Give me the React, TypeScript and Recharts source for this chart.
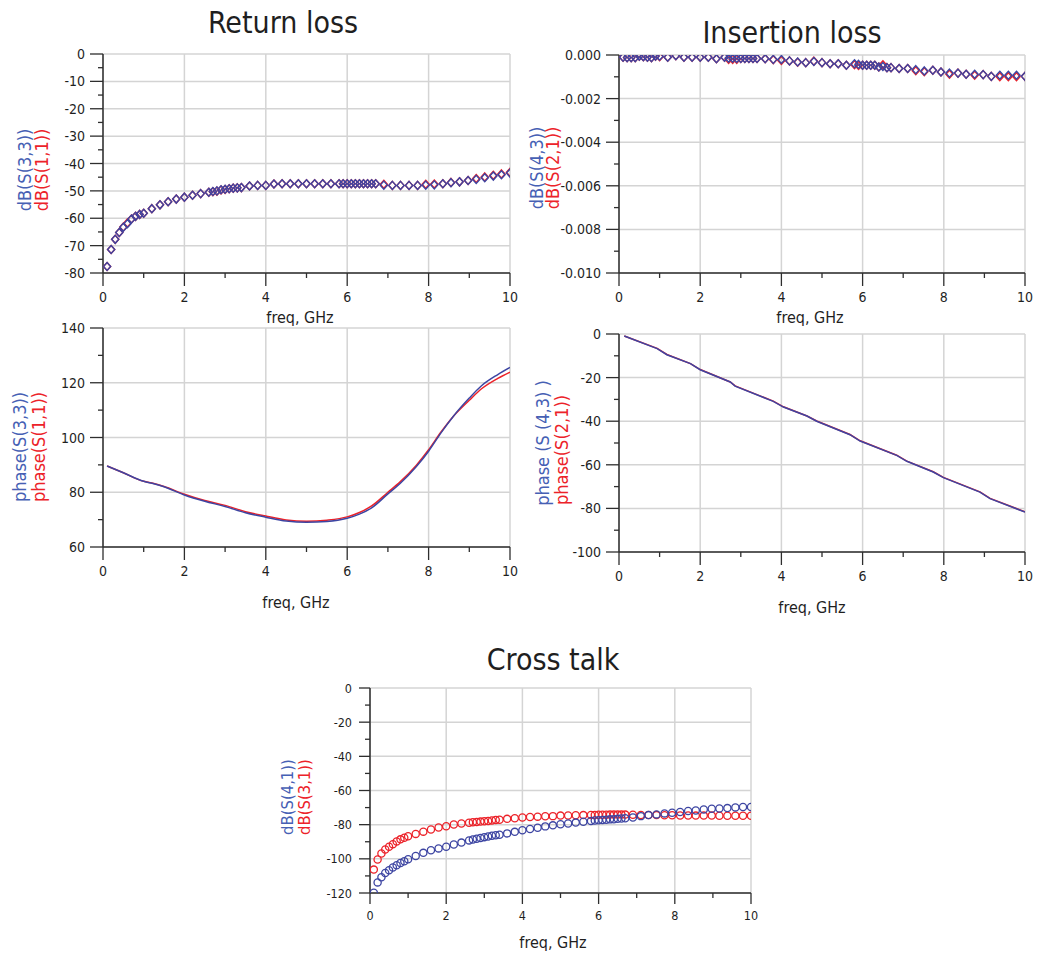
import React from 'react'
import { ScatterChart, Scatter, LineChart, Line, XAxis, YAxis, CartesianGrid } from 'recharts'

const BLUE = '#3d45a2'
const RED = '#ec2229'
const BLUE_TEXT = '#4660b4'
const GRID = '#d4d4d4'
const AXIS = '#2e2e2e'
const INK = '#1f1f1f'
const FONT = "'Liberation Sans Narrow', 'DejaVu Sans Condensed', 'Arial Narrow', sans-serif"

// sweep points, GHz (shared by the three marker plots)
const sweepFreq = [
  0.1, 0.2, 0.3, 0.4, 0.5, 0.6, 0.7, 0.8, 0.9, 1.0,
  1.2, 1.4, 1.6, 1.8, 2.0, 2.2, 2.4,
  2.6, 2.7, 2.8, 2.9, 3.0, 3.1, 3.2, 3.3, 3.4,
  3.6, 3.8, 4.0, 4.2, 4.4, 4.6, 4.8, 5.0, 5.2, 5.4, 5.6, 5.8,
  5.9, 6.0, 6.1, 6.2, 6.3, 6.4, 6.5, 6.6, 6.7,
  6.9, 7.11, 7.31, 7.52, 7.73, 7.93, 8.14, 8.35, 8.55, 8.76, 8.97, 9.17, 9.38, 9.59, 9.79, 10.0,
]

const s33Return = [
  -77.6, -71.4, -67.7, -65.2, -63.3, -62.0, -60.3, -59.3, -58.6, -58.2,
  -56.5, -55.1, -54.0, -53.0, -52.3, -51.6, -51.0,
  -50.5, -50.2, -50.0, -49.6, -49.4, -49.2, -49.0, -48.9, -48.8,
  -48.2, -48.0, -48.0, -47.5, -47.4, -47.4, -47.4, -47.4, -47.4, -47.4, -47.4, -47.4,
  -47.4, -47.4, -47.4, -47.4, -47.4, -47.4, -47.4, -47.4, -47.4,
  -47.9, -48.0, -48.0, -48.0, -48.0, -47.9, -47.8, -47.4, -47.0, -46.7, -46.2, -45.8, -45.2, -44.6, -44.1, -43.5,
]
const s11Return = [
  -77.6, -71.4, -67.7, -65.2, -63.2, -61.7, -60.3, -59.3, -58.6, -58.2,
  -56.5, -55.1, -54.0, -53.0, -52.3, -51.6, -51.0,
  -50.5, -50.3, -50.1, -49.7, -49.5, -49.2, -49.0, -48.9, -48.8,
  -48.2, -48.0, -48.0, -47.5, -47.4, -47.4, -47.4, -47.4, -47.4, -47.4, -47.4, -47.4,
  -47.4, -47.4, -47.4, -47.4, -47.4, -47.4, -47.4, -47.4, -47.4,
  -47.6, -48.0, -48.0, -48.0, -48.0, -47.6, -47.5, -47.4, -46.9, -46.7, -46.2, -45.5, -44.9, -44.3, -43.8, -43.2,
]

const s43Insertion = [
  -0.0001, -0.00012, -0.00012, -0.00012, -0.00005, -0.00008, -0.0001, -0.00012, -0.00005, -0.00006,
  -0.0001, -0.00003, -0.0001, -0.0001, -0.0001, -0.0001, -0.00017,
  -0.0001, -0.00015, -0.00015, -0.00016, -0.00016, -0.00016, -0.00016, -0.00016, -0.00016,
  -0.00017, -0.0002, -0.00021, -0.00027, -0.00032, -0.00035, -0.0003, -0.00035, -0.0004, -0.0004, -0.00047, -0.0004,
  -0.00043, -0.00047, -0.00047, -0.00047, -0.00047, -0.00055, -0.00053, -0.00058, -0.00058,
  -0.00062, -0.00062, -0.00067, -0.00073, -0.0007, -0.00078, -0.00083, -0.00083, -0.00088, -0.00088, -0.0009, -0.00098, -0.00093, -0.00093, -0.00093, -0.00098,
]
const s21Insertion = [
  -0.0001, -0.00012, -0.00012, -0.00012, -0.00005, -0.00008, -0.0001, -0.00012, -0.00005, -0.00008,
  -0.0001, -0.00003, -0.0001, -0.0001, -0.0001, -0.0001, -0.00017,
  -0.0001, -0.0002, -0.0002, -0.0002, -0.00016, -0.00016, -0.00016, -0.00016, -0.00016,
  -0.00017, -0.00022, -0.00025, -0.00027, -0.00033, -0.00035, -0.00028, -0.00035, -0.0004, -0.0004, -0.00047, -0.00045,
  -0.00048, -0.00047, -0.00047, -0.00047, -0.00047, -0.00055, -0.00045, -0.00058, -0.00058,
  -0.00062, -0.00062, -0.00072, -0.00077, -0.0007, -0.00078, -0.00088, -0.00083, -0.00088, -0.00093, -0.0009, -0.00098, -0.001, -0.001, -0.001, -0.00098,
]

const s41Cross = [
  -119.8, -113.8, -110.8, -108.3, -106.7, -105.1, -103.8, -102.4, -101.4, -100.2,
  -98.3, -96.5, -95.0, -93.9, -92.9, -91.6, -90.5,
  -89.2, -88.7, -88.2, -87.8, -87.3, -86.9, -86.5, -86.2, -85.9,
  -85.1, -84.2, -83.3, -82.5, -81.8, -81.0, -80.4, -79.8, -79.3, -78.8, -78.3, -77.8,
  -77.6, -77.4, -77.3, -77.1, -76.9, -76.8, -76.6, -76.4, -76.2,
  -75.8, -75.0, -74.4, -74.0, -73.4, -73.0, -72.6, -72.0, -71.7, -71.1, -70.7, -70.5, -70.3, -69.9, -69.7, -69.7,
]
const s31Cross = [
  -106.3, -100.4, -96.9, -94.5, -92.9, -91.4, -89.8, -88.6, -87.7, -86.8,
  -85.4, -84.1, -82.8, -81.7, -80.9, -79.9, -79.3,
  -78.9, -78.6, -78.4, -78.2, -78.0, -77.8, -77.5, -77.3, -77.1,
  -76.6, -76.2, -75.8, -75.5, -75.3, -75.1, -75.0, -74.7, -74.6, -74.5, -74.4, -74.3,
  -74.3, -74.2, -74.2, -74.2, -74.1, -74.1, -74.1, -74.1, -74.1,
  -74.2, -74.3, -74.3, -74.4, -74.5, -74.5, -74.6, -74.6, -74.7, -74.7, -74.7, -74.8, -74.8, -74.8, -74.8, -74.8,
]

// phase traces
const reflFreq = [0.1, 0.5, 1.0, 1.25, 1.5, 2.0, 2.5, 3.0, 3.5, 4.0, 4.5, 5.0, 5.5, 6.0, 6.3, 6.6, 7.0, 7.3, 7.7, 8.0, 8.3, 8.6, 9.0, 9.3, 9.7, 10.0]
const s33Phase = [89.6, 87.1, 84.0, 83.1, 82.0, 79.0, 76.7, 74.8, 72.5, 70.9, 69.5, 69.0, 69.3, 70.5, 72.0, 74.3, 79.4, 83.2, 89.4, 95.0, 101.6, 107.6, 114.4, 118.9, 123.0, 125.6]
const s11Phase = [89.6, 87.1, 84.0, 83.2, 82.1, 79.3, 77.0, 75.2, 72.9, 71.3, 69.9, 69.4, 69.8, 71.0, 72.6, 75.0, 80.0, 83.8, 89.9, 95.5, 101.9, 107.6, 113.6, 117.8, 121.6, 123.9]

const thruFreq = [0.13, 0.94, 1.18, 1.76, 2.0, 2.74, 2.86, 3.8, 4.05, 4.63, 4.87, 5.69, 5.94, 6.84, 7.09, 7.74, 7.99, 8.89, 9.14, 10.0]
const s43Phase = [-0.9, -6.7, -9.5, -13.6, -16.4, -22.0, -23.9, -30.9, -33.5, -37.6, -40.0, -46.2, -49.1, -55.7, -58.4, -63.3, -65.9, -72.5, -75.5, -81.7]
const s21Phase = [-0.9, -6.6, -9.4, -13.6, -16.3, -22.0, -23.8, -30.8, -33.4, -37.6, -39.9, -46.1, -49.0, -55.6, -58.3, -63.2, -65.8, -72.4, -75.4, -81.6]

// axis ticks
const freqTicks = [0, 1, 2, 3, 4, 5, 6, 7, 8, 9, 10]
const freqMajor = [0, 2, 4, 6, 8, 10]
const rlTicks = [-80, -75, -70, -65, -60, -55, -50, -45, -40, -35, -30, -25, -20, -15, -10, -5, 0]
const rlMajor = [-80, -70, -60, -50, -40, -30, -20, -10, 0]
const ilTicks = [-0.01, -0.009, -0.008, -0.007, -0.006, -0.005, -0.004, -0.003, -0.002, -0.001, 0]
const ilMajor = [-0.01, -0.008, -0.006, -0.004, -0.002, 0]
const prTicks = [60, 70, 80, 90, 100, 110, 120, 130, 140]
const prMajor = [60, 80, 100, 120, 140]
const ptTicks = [-100, -90, -80, -70, -60, -50, -40, -30, -20, -10, 0]
const ptMajor = [-100, -80, -60, -40, -20, 0]
const xtTicks = [-120, -110, -100, -90, -80, -70, -60, -50, -40, -30, -20, -10, 0]
const xtMajor = [-120, -100, -80, -60, -40, -20, 0]

const pairs = (xs: number[], ys: number[]) => xs.map((f, i) => ({ f, v: ys[i] }))
const rows = (xs: number[], a: number[], b: number[]) => xs.map((f, i) => ({ f, a: a[i], b: b[i] }))

const isIn = (list: number[], v: number) => list.some(m => Math.abs(m - v) < 1e-9)

type Rect = { l: number; t: number; r: number; b: number }
type Opt = { major: number[]; fmt: (v: number) => string; fs: number; big: number; small: number; xGap: number }

const PAD_L = 70
const PAD_T = 10
const PAD_R = 15
const PAD_B = 40

function yTick(o: Opt) {
  return (p: any) => {
    const v = p.payload.value
    const m = isIn(o.major, v)
    return (
      <g>
        <line x1={p.x - (m ? o.big : o.small)} x2={p.x} y1={p.y} y2={p.y} stroke={AXIS} strokeWidth={1.3} />
        {m && (
          <text x={p.x - 18} y={p.y} dy="0.36em" textAnchor="end" fontSize={o.fs} fill={INK} fontFamily={FONT}>
            {o.fmt(v)}
          </text>
        )}
      </g>
    )
  }
}

function xTick(o: Opt) {
  return (p: any) => {
    const v = p.payload.value
    const m = isIn(freqMajor, v)
    return (
      <g>
        <line x1={p.x} x2={p.x} y1={p.y} y2={p.y + (m ? o.big : o.small)} stroke={AXIS} strokeWidth={1.3} />
        {m && (
          <text x={p.x} y={p.y + o.xGap} dy="0.36em" textAnchor="middle" fontSize={o.fs} fill={INK} fontFamily={FONT}>
            {v}
          </text>
        )}
      </g>
    )
  }
}

function box(rc: Rect): React.CSSProperties {
  return { position: 'absolute', left: rc.l - PAD_L, top: rc.t - PAD_T }
}

function axes(domain: [number, number], yTicks: number[], o: Opt, yKey?: string) {
  return [
    <CartesianGrid key="g" horizontalValues={o.major} verticalValues={freqMajor} stroke={GRID} strokeWidth={1.5} />,
    <XAxis key="x" type="number" dataKey="f" domain={[0, 10]} ticks={freqTicks} interval={0} height={PAD_B - 10}
      tickSize={0} tickMargin={0} tickLine={false} axisLine={{ stroke: AXIS, strokeWidth: 1.5 }} tick={xTick(o)} allowDataOverflow />,
    <YAxis key="y" type="number" dataKey={yKey} domain={domain} ticks={yTicks} interval={0} width={PAD_L}
      tickSize={0} tickMargin={0} tickLine={false} axisLine={{ stroke: AXIS, strokeWidth: 1.5 }} tick={yTick(o)} allowDataOverflow />,
  ]
}

const diamond = (c: string) => (p: any) => (
  <polygon
    points={`${p.cx},${p.cy - 4} ${p.cx + 3.6},${p.cy} ${p.cx},${p.cy + 4} ${p.cx - 3.6},${p.cy}`}
    fill="none" stroke={c} strokeWidth={1.4}
  />
)
const ring = (c: string) => (p: any) => <circle cx={p.cx} cy={p.cy} r={3.6} fill="none" stroke={c} strokeWidth={1.3} />

function MarkerPlot({ rc, domain, yTicks, o, red, blue, shape }: {
  rc: Rect; domain: [number, number]; yTicks: number[]; o: Opt
  red: { f: number; v: number }[]; blue: { f: number; v: number }[]; shape: (c: string) => (p: any) => React.ReactElement
}) {
  return (
    <div style={box(rc)}>
      <ScatterChart width={rc.r - rc.l + PAD_L + PAD_R} height={rc.b - rc.t + PAD_T + PAD_B}
        margin={{ top: PAD_T, right: PAD_R, bottom: 10, left: 0 }}>
        {axes(domain, yTicks, o, 'v')}
        <Scatter data={red} fill={RED} shape={shape(RED)} isAnimationActive={false} />
        <Scatter data={blue} fill={BLUE} shape={shape(BLUE)} isAnimationActive={false} />
      </ScatterChart>
    </div>
  )
}

function TracePlot({ rc, domain, yTicks, o, data, curve }: {
  rc: Rect; domain: [number, number]; yTicks: number[]; o: Opt; data: { f: number; a: number; b: number }[]
  curve: 'monotone' | 'linear'
}) {
  return (
    <div style={box(rc)}>
      <LineChart width={rc.r - rc.l + PAD_L + PAD_R} height={rc.b - rc.t + PAD_T + PAD_B} data={data}
        margin={{ top: PAD_T, right: PAD_R, bottom: 10, left: 0 }}>
        {axes(domain, yTicks, o)}
        <Line type={curve} dataKey="b" stroke={RED} strokeWidth={1.5} dot={false} isAnimationActive={false} />
        <Line type={curve} dataKey="a" stroke={BLUE} strokeWidth={1.5} dot={false} isAnimationActive={false} />
      </LineChart>
    </div>
  )
}

function Txt({ x, y, size, color = INK, rotate, children }: {
  x: number; y: number; size: number; color?: string; rotate?: boolean; children: React.ReactNode
}) {
  return (
    <div style={{
      position: 'absolute', left: x, top: y, fontSize: size, color, fontFamily: FONT, whiteSpace: 'nowrap',
      lineHeight: 1, transform: `translate(-50%, -50%)${rotate ? ' rotate(-90deg)' : ''}`,
    }}>{children}</div>
  )
}

const intFmt = (v: number) => String(v)
const o14 = (major: number[], fmt = intFmt): Opt => ({ major, fmt, fs: 14, big: 13, small: 5, xGap: 24 })

export default function App() {
  const rl = { l: 103, t: 54, r: 510, b: 273 }
  const il = { l: 619, t: 55, r: 1025, b: 273 }
  const pr = { l: 103, t: 328, r: 510, b: 547 }
  const pt = { l: 619, t: 334, r: 1025, b: 552 }
  const xt = { l: 370, t: 688, r: 751, b: 893 }

  return (
    <div style={{ position: 'absolute', left: 0, top: 0, width: 1045, height: 958, background: '#fff', overflow: 'hidden' }}>
      <Txt x={283} y={23} size={30}>Return loss</Txt>
      <Txt x={792} y={33} size={30}>Insertion loss</Txt>
      <Txt x={553} y={660} size={30}>Cross talk</Txt>

      <MarkerPlot rc={rl} domain={[-80, 0]} yTicks={rlTicks} o={o14(rlMajor)}
        red={pairs(sweepFreq, s11Return)} blue={pairs(sweepFreq, s33Return)} shape={diamond} />
      <MarkerPlot rc={il} domain={[-0.01, 0]} yTicks={ilTicks} o={o14(ilMajor, v => v.toFixed(3))}
        red={pairs(sweepFreq, s21Insertion)} blue={pairs(sweepFreq, s43Insertion)} shape={diamond} />
      <TracePlot rc={pr} domain={[60, 140]} yTicks={prTicks} o={o14(prMajor)} data={rows(reflFreq, s33Phase, s11Phase)} curve="monotone" />
      <TracePlot rc={pt} domain={[-100, 0]} yTicks={ptTicks} o={o14(ptMajor)} data={rows(thruFreq, s43Phase, s21Phase)} curve="linear" />
      <MarkerPlot rc={xt} domain={[-120, 0]} yTicks={xtTicks} o={{ major: xtMajor, fmt: intFmt, fs: 12.5, big: 11, small: 5, xGap: 22 }}
        red={pairs(sweepFreq, s31Cross)} blue={pairs(sweepFreq, s41Cross)} shape={ring} />

      <Txt x={25} y={170} size={18} color={BLUE_TEXT} rotate>dB(S(3,3))</Txt>
      <Txt x={42} y={170} size={18} color={RED} rotate>dB(S(1,1))</Txt>
      <Txt x={537} y={168} size={18} color={BLUE_TEXT} rotate>dB(S(4,3))</Txt>
      <Txt x={553} y={168} size={18} color={RED} rotate>dB(S(2,1))</Txt>
      <Txt x={20} y={447} size={18} color={BLUE_TEXT} rotate>phase(S(3,3))</Txt>
      <Txt x={39} y={447} size={18} color={RED} rotate>phase(S(1,1))</Txt>
      <Txt x={543} y={443} size={18} color={BLUE_TEXT} rotate>phase (S (4,3) )</Txt>
      <Txt x={562} y={450} size={18} color={RED} rotate>phase(S(2,1))</Txt>
      <Txt x={288} y={797} size={16.5} color={BLUE_TEXT} rotate>dB(S(4,1))</Txt>
      <Txt x={305} y={797} size={16.5} color={RED} rotate>dB(S(3,1))</Txt>

      <Txt x={300} y={318} size={16}>freq, GHz</Txt>
      <Txt x={810} y={318} size={16}>freq, GHz</Txt>
      <Txt x={296} y={603} size={16}>freq, GHz</Txt>
      <Txt x={812} y={608} size={16}>freq, GHz</Txt>
      <Txt x={553} y={943} size={16}>freq, GHz</Txt>
    </div>
  )
}
